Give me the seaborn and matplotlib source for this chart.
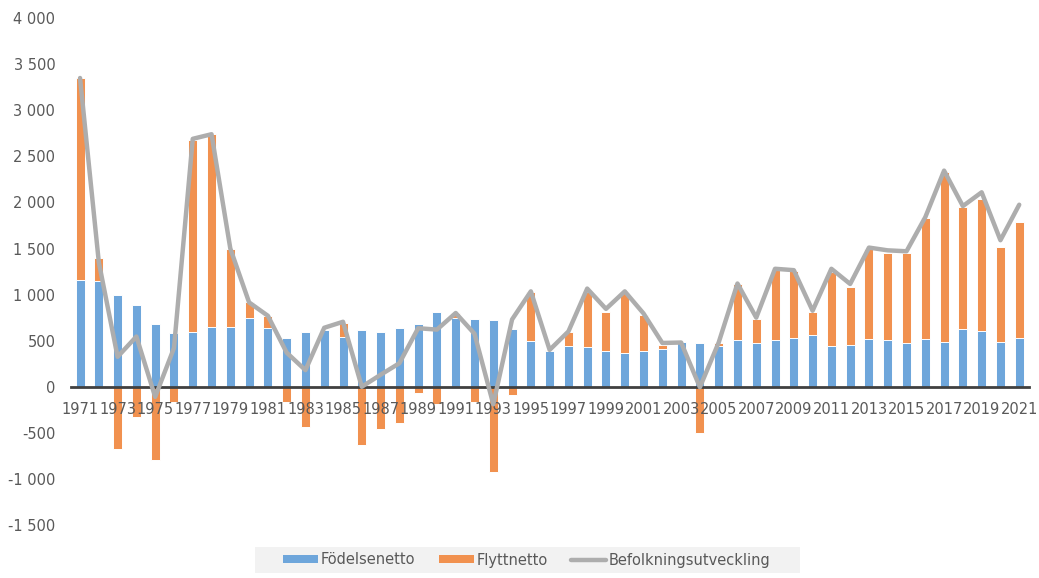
import numpy as np
import pandas as pd
import matplotlib.pyplot as plt
import seaborn as sns
from matplotlib.patches import Patch, Rectangle
from matplotlib.lines import Line2D

# Values
years = list(range(1971, 2022))
fodelsenetto = [1160, 1150, 1000, 890, 680, 580, 590, 650, 650, 750,
                640, 530, 590, 620, 540, 620, 590, 640, 680, 810,
                750, 740, 720, 630, 500, 390, 440, 430, 390, 370,
                390, 410, 490, 480, 440, 510, 480, 510, 530, 560,
                440, 450, 520, 510, 480, 520, 490, 630, 600, 490,
                530]
flyttnetto = [2190, 250, -680, -330, -790, -170, 2090, 2090, 850, 165,
              130, -165, -435, 10, 150, -630, -455, -390, -65, -185,
              50, -165, -930, -90, 530, 10, 155, 600, 420, 650,
              390, 45, -10, -500, 35, 610, 260, 760, 725, 250,
              800, 635, 975, 945, 975, 1310, 1840, 1320, 1440, 1030,
              1260]
befolkning = [3350, 1350, 325, 545, -110, 420, 2690, 2740, 1500, 915,
              770, 370, 180, 640, 705, 0, 130, 255, 635, 620,
              800, 575, -190, 730, 1035, 400, 600, 1065, 845, 1035,
              795, 475, 480, -5, 480, 1120, 750, 1280, 1265, 825,
              1280, 1115, 1510, 1480, 1470, 1840, 2345, 1960, 2110, 1590,
              1975]
yticks = [-1500, -1000, -500, 0, 500, 1000, 1500, 2000, 2500, 3000, 3500, 4000]

df = pd.DataFrame({'year': [str(y) for y in years],
                   'fodelse': fodelsenetto,
                   'flytt': flyttnetto,
                   'befolkning': befolkning})
# Excel-style stacking: positive migration sits on top of births, negative goes below zero
df['flytt_top'] = np.where(df['flytt'] > 0, df['fodelse'] + df['flytt'], df['flytt'])

blue = '#6EA6DB'
orange = '#F1914F'
grey = '#ADADAD'
text_col = '#595959'

sns.set_style('white')
plt.rcParams['font.family'] = ['DejaVu Sans']

fig = plt.figure(figsize=(10.39, 5.78), dpi=100)
ax = fig.add_axes([0.068, 0.0917, 0.922, 0.877])

sns.barplot(x='year', y='flytt_top', data=df, color=orange, width=0.48,
            errorbar=None, edgecolor='white', linewidth=0.7, saturation=1, ax=ax)
sns.barplot(x='year', y='fodelse', data=df, color=blue, width=0.48,
            errorbar=None, edgecolor='white', linewidth=0.7, saturation=1, ax=ax)
sns.lineplot(x=np.arange(len(years)), y=df['befolkning'], color=grey,
             linewidth=3.2, ax=ax, zorder=3)

ax.set_xlim(-0.5, len(years) - 0.5)
ax.set_ylim(-1500, 4000)
ax.set_xlabel('')
ax.set_ylabel('')
ax.set_axisbelow(False)

ax.set_yticks(yticks)
ax.set_yticklabels([f'{v:,}'.replace(',', ' ') for v in yticks])
ax.set_xticks(np.arange(0, len(years), 2))
ax.set_xticklabels([str(y) for y in years[::2]])
ax.tick_params(axis='both', length=0, labelsize=10.5, colors=text_col)
ax.tick_params(axis='y', pad=11)
ax.tick_params(axis='x', pad=11)

for side in ['top', 'right', 'left']:
    ax.spines[side].set_visible(False)
ax.spines['bottom'].set_position(('data', 0))
ax.spines['bottom'].set_color('#404040')
ax.spines['bottom'].set_linewidth(2)
ax.spines['bottom'].set_zorder(1.5)

# legend background strip
fig.patches.append(Rectangle((255 / 1039, 5 / 578), 545 / 1039, 26 / 578,
                             transform=fig.transFigure, facecolor='#F2F2F2',
                             edgecolor='none', zorder=0))

handles = [Patch(facecolor=blue, edgecolor='none'),
           Patch(facecolor=orange, edgecolor='none'),
           Line2D([0], [0], color=grey, linewidth=3.2)]
labels = ['Födelsenetto', 'Flyttnetto', 'Befolkningsutveckling']
leg = fig.legend(handles, labels, loc='center', bbox_to_anchor=(0.507, 18 / 578),
                 ncol=3, frameon=False, handlelength=2.4, handleheight=0.5,
                 columnspacing=1.6, handletextpad=0.2, fontsize=10.5,
                 borderpad=0, borderaxespad=0)
for t in leg.get_texts():
    t.set_color(text_col)

fig.savefig('out.png', dpi=100)
